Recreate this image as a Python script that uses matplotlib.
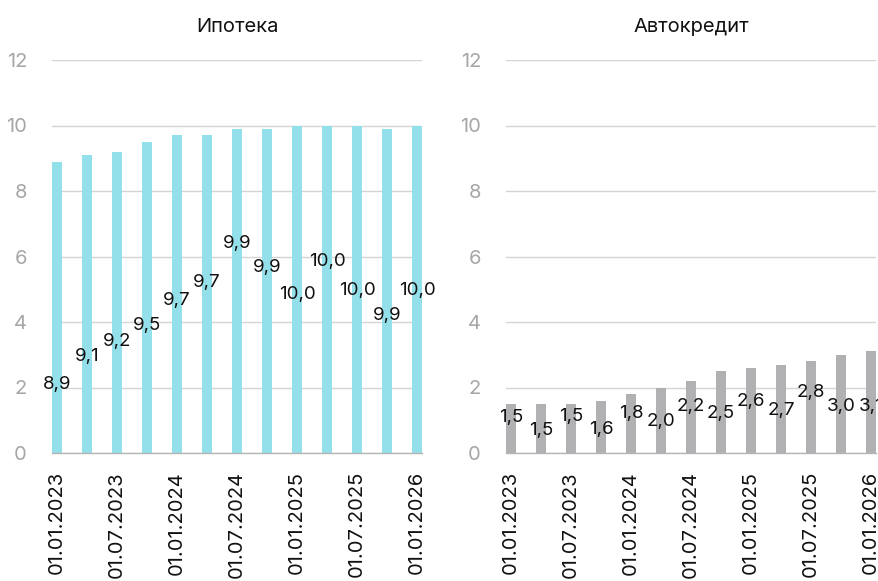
import matplotlib
matplotlib.use("Agg")
import matplotlib.pyplot as plt

plt.rcParams['font.family'] = ['Inter', 'DejaVu Sans']

dates = ["01.01.2023", "01.04.2023", "01.07.2023", "01.10.2023", "01.01.2024",
         "01.04.2024", "01.07.2024", "01.10.2024", "01.01.2025", "01.04.2025",
         "01.07.2025", "01.10.2025", "01.01.2026"]
mortgage = [8.9, 9.1, 9.2, 9.5, 9.7, 9.7, 9.9, 9.9, 10.0, 10.0, 10.0, 9.9, 10.0]
auto = [1.5, 1.5, 1.5, 1.6, 1.8, 2.0, 2.2, 2.5, 2.6, 2.7, 2.8, 3.0, 3.1]
# heights at which the data labels sit in the reference (as drawn)
mortgage_label_y = [2.1, 2.95, 3.4, 3.9, 4.65, 5.2, 6.4, 5.65, 4.85, 5.85, 4.95, 4.2, 4.95]
auto_label_y = [1.08, 0.68, 1.1, 0.73, 1.22, 0.95, 1.42, 1.22, 1.57, 1.31, 1.84, 1.42, 1.42]
titles = ["Ипотека", "Автокредит"]
yticks = [0, 2, 4, 6, 8, 10, 12]

fig = plt.figure(figsize=(8.79, 5.81), dpi=100)
W, H = 879, 581
panels = [
    (52, mortgage, mortgage_label_y, "#94E0EA", titles[0]),
    (506, auto, auto_label_y, "#B1B1B3", titles[1]),
]
bw = 1 / 3
for x0, vals, labys, color, title in panels:
    ax = fig.add_axes([x0 / W, 1 - 453 / H, 370 / W, 393 / H])
    xs = list(range(len(vals)))
    ax.bar(xs, vals, width=bw, color=color, zorder=2)
    for x, v, ly in zip(xs, vals, labys):
        ax.text(x, ly, f"{v:.1f}".replace(".", ","), ha="center", va="center",
                fontsize=13.5, color="#111111", zorder=3)
    ax.set_xlim(-bw / 2, len(vals) - 1 + bw / 2)
    ax.set_ylim(0, 12)
    ax.set_yticks(yticks)
    ax.set_yticklabels([str(t) for t in yticks], color="#A6A6A6", fontsize=14.5)
    ax.set_xticks(xs[::2])
    ax.set_xticklabels(dates[::2], rotation=90, fontsize=14.5, color="#111111")
    ax.tick_params(axis="both", length=0)
    ax.tick_params(axis="y", pad=18)
    ax.tick_params(axis="x", pad=13)
    ax.grid(axis="y", color="#D4D4D4", linewidth=1.0, zorder=0)
    for s in ["top", "right", "left"]:
        ax.spines[s].set_visible(False)
    ax.spines["bottom"].set_color("#B5B5B5")
    ax.spines["bottom"].set_linewidth(1.0)
    ax.spines["bottom"].set_zorder(4)
    ax.set_title(title, fontsize=14.5, color="#111111", pad=20)

fig.savefig("out.png", dpi=100)
